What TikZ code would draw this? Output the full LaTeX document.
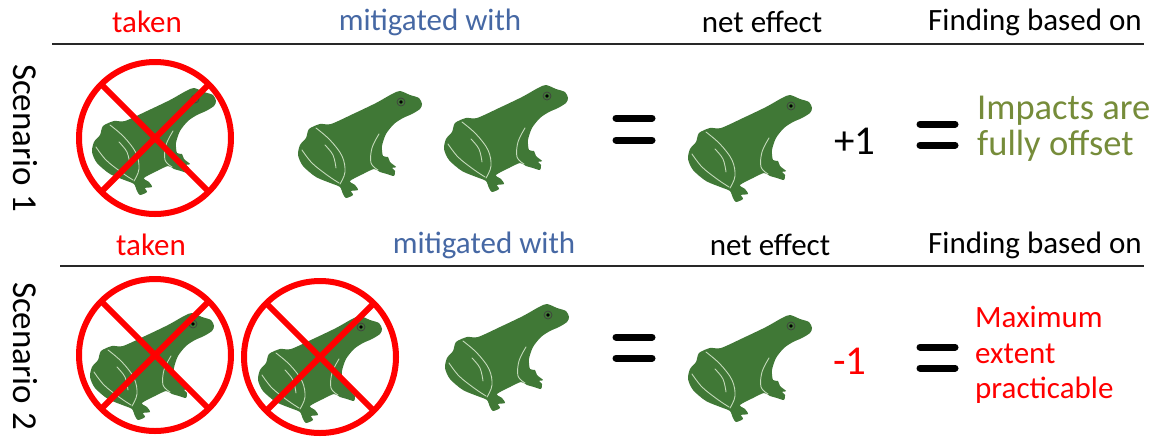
\documentclass[tikz,border=0pt]{standalone}
\usepackage{fontspec}
\setmainfont{Carlito}
\definecolor{frogfill}{RGB}{64,120,54}
\definecolor{frogvein}{RGB}{196,218,186}
\definecolor{headblue}{RGB}{70,104,164}
\definecolor{olivetext}{RGB}{118,140,58}
\definecolor{rulegray}{RGB}{40,40,40}
\definecolor{banred}{RGB}{255,0,0}

\tikzset{
  frog/.pic={
    % body silhouette
    \fill[frogfill] plot[smooth cycle, tension=0.45] coordinates {
      (124,14) (121,8) (112,5) (102,1) (94,4) (78,13) (55,24) (33,34)
      (22,34) (11,39) (8,48) (2,55) (0,65) (5,76) (18,87) (35,94)
      (42,97) (45,104) (48,108) (55,105) (53,101) (60,100) (57,95)
      (52,91) (65,84) (76,79) (82,82) (89,84) (96,86) (97,81) (94,78)
      (98,77) (92,72) (90,67) (85,66) (84,56) (88,44) (96,34) (105,28)
      (114,24) (122,19)};
    % pale contour lines on legs
    \draw[frogvein, line width=0.9pt, line cap=round]
      plot[smooth, tension=0.6] coordinates {(18,38) (32,50) (44,66) (47,82) (42,94)};
    \draw[frogvein, line width=0.9pt, line cap=round]
      plot[smooth, tension=0.6] coordinates {(4,60) (14,73) (29,85) (41,93)};
    \draw[frogvein, line width=0.9pt, line cap=round]
      plot[smooth, tension=0.6] coordinates {(27,55) (35,65) (38,78)};
    \draw[frogvein, line width=0.9pt, line cap=round]
      plot[smooth, tension=0.6] coordinates {(81,44) (74,58) (73,73) (80,80)};
    % eye
    \draw[black!75, line width=0.7pt] (103,12) circle (4);
    \fill[black] (103,12) circle (1.8);
  },
  banned/.style={draw=banred, line width=6pt},
  hdr/.style={font=\fontsize{31}{36}\selectfont, inner sep=0pt},
  rule/.style={rulegray, line width=1.6pt},
  eqbar/.style={black, line width=7pt, line cap=round},
  scen/.style={font=\fontsize{35}{42}\selectfont, rotate=-90, inner sep=0pt},
  score/.style={font=\fontsize{41}{48}\selectfont, inner sep=0pt},
  verdict/.style={anchor=base west, inner sep=0pt},
}

\begin{document}
\begin{tikzpicture}[x=1pt, y=-1pt]
\useasboundingbox (0,0) rectangle (1161,437);

% ---------- headers and rules ----------
\node[hdr, text=banred]   (t1) at (147,22) {taken};
\node[hdr, text=headblue] (m1) at (430,22) {mitigated with};
\node[hdr]                (n1) at (762,22) {net effect};
\node[hdr]                (f1) at (1035,22) {Finding based on};
\draw[rule] (52,44) -- (1144,44);

\node[hdr, text=banred]   (t2) at (151,245) {taken};
\node[hdr, text=headblue] (m2) at (484,245) {mitigated with};
\node[hdr]                (n2) at (770,245) {net effect};
\node[hdr]                (f2) at (1035,245) {Finding based on};
\draw[rule] (60,266) -- (1144,266);

% ---------- scenario labels ----------
\node[scen] (s1) at (25,138) {Scenario 1};
\node[scen] (s2) at (25,356) {Scenario 2};

% ---------- scenario 1 ----------
\pic at (92,87) {frog};
\draw[banned] (155,138) circle (76);
\draw[banned] (155,138) ++(135:76) -- ++(-45:152);
\draw[banned] (155,138) ++(45:76) -- ++(-135:152);

\pic at (298,90) {frog};
\pic at (444,84) {frog};

\draw[eqbar] (616,118) -- (652,118);
\draw[eqbar] (616,140) -- (652,140);

\pic at (688,94) {frog};
\node[score] (p1) at (855,141) {+1};

\draw[eqbar] (920,124) -- (955,124);
\draw[eqbar] (920,145) -- (955,145);

\node[verdict, text=olivetext, font=\fontsize{36.5}{42}\selectfont] (v1a) at (977,119) {Impacts are};
\node[verdict, text=olivetext, font=\fontsize{36.5}{42}\selectfont] (v1b) at (977,155) {fully offset};

% ---------- scenario 2 ----------
\pic at (90,312) {frog};
\draw[banned] (155,355) circle (76);
\draw[banned] (155,355) ++(135:76) -- ++(-45:152);
\draw[banned] (155,355) ++(45:76) -- ++(-135:152);

\pic at (258,315) {frog};
\draw[banned] (320,357) circle (76);
\draw[banned] (320,357) ++(135:76) -- ++(-45:152);
\draw[banned] (320,357) ++(45:76) -- ++(-135:152);

\pic at (445,303) {frog};

\draw[eqbar] (616,337) -- (652,337);
\draw[eqbar] (616,358) -- (652,358);

\pic at (688,314) {frog};
\node[score, text=banred] (p2) at (850,361) {-1};

\draw[eqbar] (920,347) -- (955,347);
\draw[eqbar] (920,368) -- (955,368);

\node[verdict, text=banred, font=\fontsize{31}{36}\selectfont] (v2a) at (975,327) {Maximum};
\node[verdict, text=banred, font=\fontsize{31}{36}\selectfont] (v2b) at (975,363) {extent};
\node[verdict, text=banred, font=\fontsize{31}{36}\selectfont] (v2c) at (975,398) {practicable};
\end{tikzpicture}
\end{document}
